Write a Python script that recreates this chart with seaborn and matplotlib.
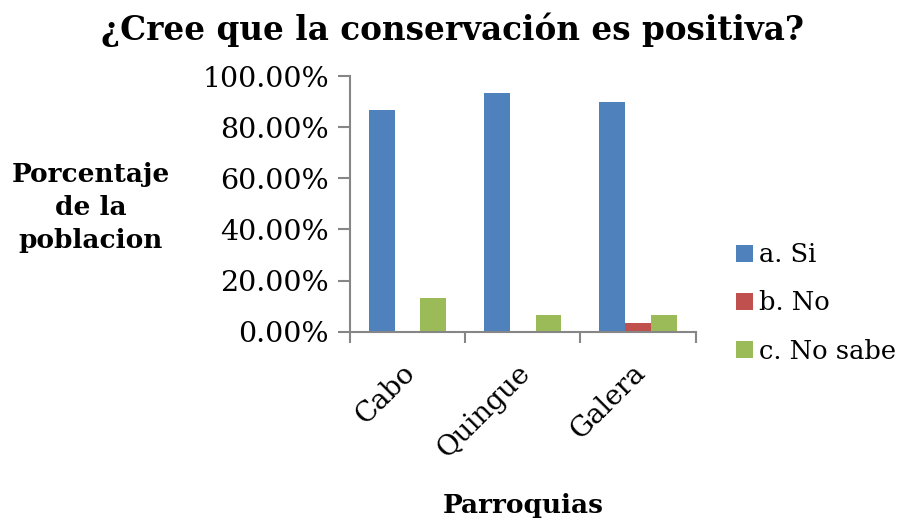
import matplotlib
matplotlib.use("Agg")
import matplotlib.pyplot as plt
import matplotlib.transforms as mtransforms
import seaborn as sns
import pandas as pd
from matplotlib.ticker import FuncFormatter, FixedLocator

categories = ["Cabo", "Quingue", "Galera"]
series = ["a. Si", "b. No", "c. No sabe"]
si = [86.67, 93.33, 90.00]
no = [0.0, 0.0, 3.33]
no_sabe = [13.33, 6.67, 6.67]
colors = ["#4F81BD", "#C0504D", "#9BBB59"]

rows = []
for s, vals in zip(series, [si, no, no_sabe]):
    for c, v in zip(categories, vals):
        rows.append({"Parroquia": c, "Respuesta": s, "Valor": v})
df = pd.DataFrame(rows)

sns.set_theme(style="white")
plt.rcParams["font.family"] = ["DejaVu Serif"]
plt.rcParams["text.color"] = "black"
plt.rcParams["xtick.color"] = "black"
plt.rcParams["ytick.color"] = "black"

fig = plt.figure(figsize=(9.12, 5.25), dpi=100)
ax = fig.add_axes([350/912, 1-331.7/525, (695.7-350)/912, (331.7-76)/525])

sns.barplot(data=df, x="Parroquia", y="Valor", hue="Respuesta", palette=colors,
            width=0.67, ax=ax, saturation=1, legend=True, linewidth=0)

ax.set_ylim(0, 100)
ax.set_xlim(-0.5, 2.5)
ax.yaxis.set_major_locator(FixedLocator([0, 20, 40, 60, 80, 100]))
ax.yaxis.set_major_formatter(FuncFormatter(lambda v, p: f"{v:.2f}%"))

ax.set_xticks([-0.5, 0.5, 1.5, 2.5])
ax.set_xticklabels([])
ax.set_xticks([0, 1, 2], minor=True)
ax.set_xticklabels(categories, minor=True, rotation=45, ha="right",
                   rotation_mode="anchor", fontsize=20)
ax.tick_params(axis="x", which="minor", bottom=True, length=0, pad=20, labelcolor="black")
ax.tick_params(axis="x", which="major", bottom=True, length=8, width=1.5,
               color="#868686", direction="out")
ax.tick_params(axis="y", which="major", left=True, length=9, width=1.5, color="#868686",
               direction="out", labelsize=20.5, pad=6, labelcolor="black")
offset = mtransforms.ScaledTranslation(-6/100, 0, fig.dpi_scale_trans)
for lbl in ax.get_xticklabels(minor=True):
    lbl.set_transform(lbl.get_transform() + offset)

for sp in ["top", "right"]:
    ax.spines[sp].set_visible(False)
for sp in ["left", "bottom"]:
    ax.spines[sp].set_color("#868686")
    ax.spines[sp].set_linewidth(1.5)

ax.set_xlabel("")
ax.set_ylabel("")
fig.text(523/912, 1-505/525, "Parroquias", ha="center", va="center",
         fontsize=19, fontweight="bold", color="black")
fig.text(91/912, 1-207/525, "Porcentaje\nde la\npoblacion", ha="center", va="center",
         fontsize=19, fontweight="bold", linespacing=1.4, color="black")
fig.text(453/912, 1-30/525, "¿Cree que la conservación es positiva?", ha="center",
         va="center", fontsize=23.5, fontweight="bold", color="black")

leg = ax.legend(loc="center left", bbox_to_anchor=(736/912, 1-303/525),
                bbox_transform=fig.transFigure, frameon=False, fontsize=18.5,
                handlelength=0.65, handleheight=0.65, handletextpad=0.25,
                labelspacing=0.9, title=None, borderpad=0, borderaxespad=0)
for t in leg.get_texts():
    t.set_color("black")

fig.savefig("out.png", dpi=100)
